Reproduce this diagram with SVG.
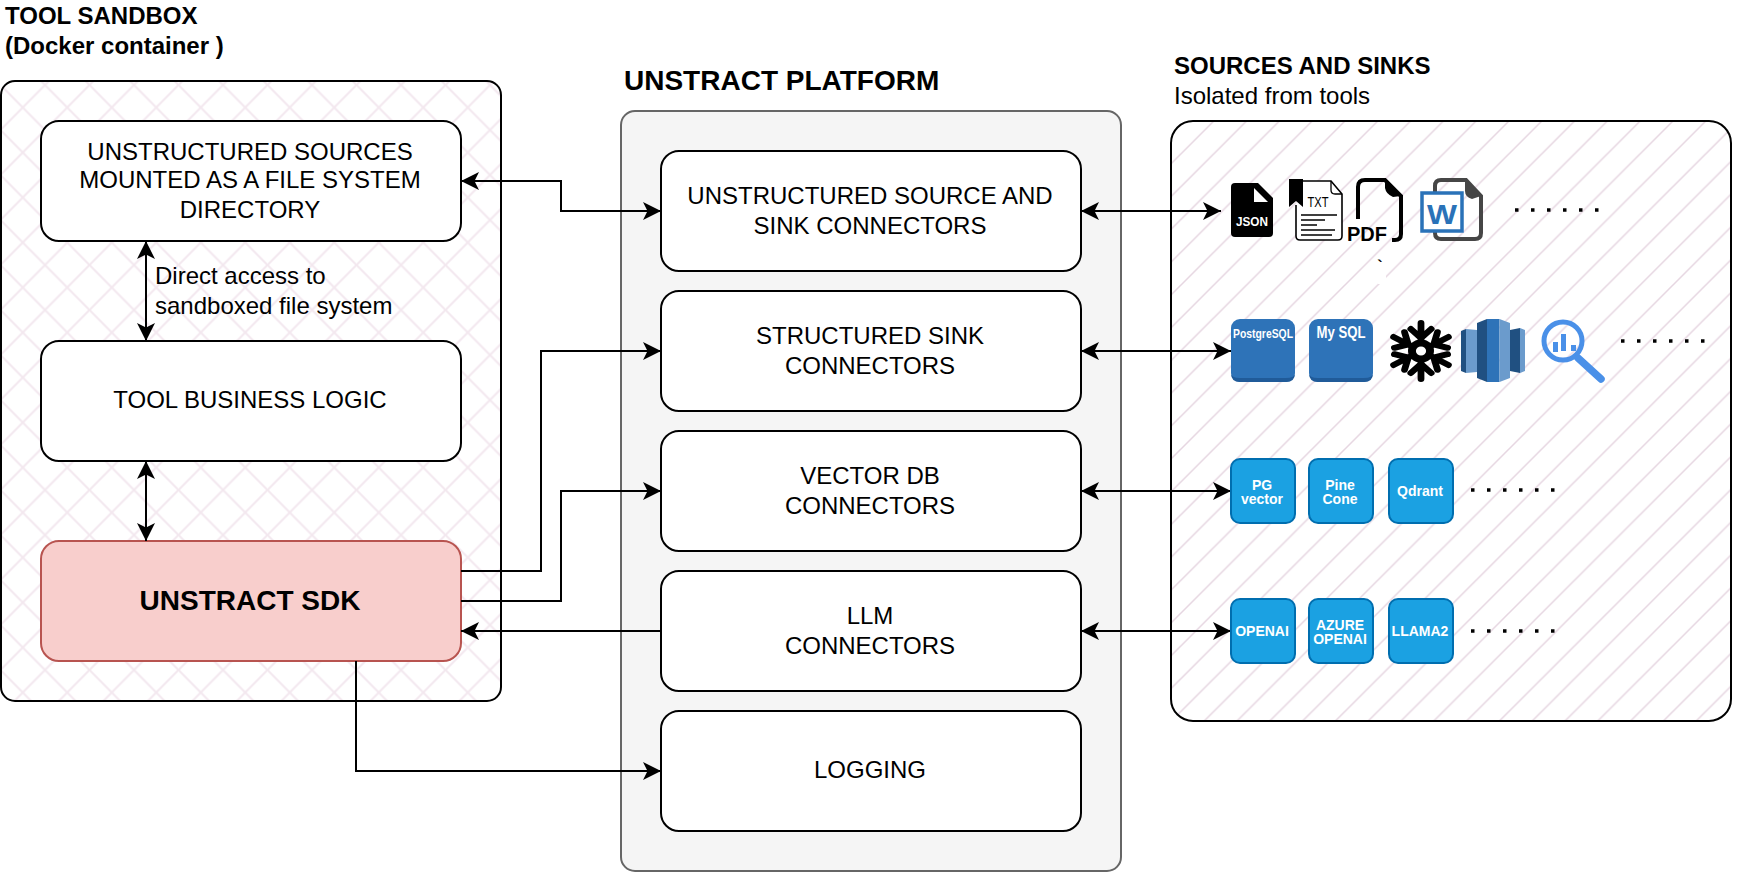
<svg xmlns="http://www.w3.org/2000/svg" width="1742" height="872" viewBox="0 0 1742 872">
<style>
text{font-family:"Liberation Sans",Arial,Helvetica,sans-serif;fill:#000}
.t{font-size:24px;text-anchor:middle}
.h{font-size:24px;font-weight:bold}
.n{fill:#fff;stroke:#000;stroke-width:2}
.c{fill:none;stroke:#000;stroke-width:2}
.b{fill:#1ba1e2;stroke:#006eaf;stroke-width:2}
.w{font-size:14px;font-weight:bold;text-anchor:middle;fill:#fff}
.d{fill:none;stroke:#000;stroke-width:3.5;stroke-dasharray:3.5 12.5}
</style>
<defs>
<marker id="a" markerUnits="userSpaceOnUse" markerWidth="20" markerHeight="20" refX="19" refY="10" orient="auto-start-reverse" viewBox="0 0 20 20"><path d="M19 10L1 1L5.5 10L1 19Z" fill="#000"/></marker>
<pattern id="x" patternUnits="userSpaceOnUse" width="44.5" height="45" x="22.75" y="62.5"><path d="M0 0L44.5 45M44.5 0L0 45" stroke="#f3e8ef" stroke-width="2" fill="none"/></pattern>
<pattern id="s" patternUnits="userSpaceOnUse" width="32.8" height="32.8" x="1181" y="121"><path d="M-5 37.8L37.8 -5M-5 5L5 -5M27.8 37.8L37.8 27.8" stroke="#e6d6e1" stroke-width="1.5" fill="none"/></pattern>
</defs>
<g id="title-sandbox"><text class="h" x="5" y="24">TOOL SANDBOX</text><text class="h" x="5" y="54">(Docker container )</text></g>
<g id="title-platform"><text x="624" y="90" font-size="28" font-weight="bold">UNSTRACT PLATFORM</text></g>
<g id="title-sources"><text class="h" x="1174" y="74">SOURCES AND SINKS</text><text x="1174" y="104" font-size="24">Isolated from tools</text></g>

<g id="sandbox"><rect x="1" y="81" width="500" height="620" rx="14" fill="#fff"/><rect x="1" y="81" width="500" height="620" rx="14" fill="url(#x)" stroke="#000" stroke-width="2"/></g>
<g id="platform"><rect x="621" y="111" width="500" height="760" rx="14" fill="#f5f5f5" stroke="#666" stroke-width="2"/></g>
<g id="sources"><rect x="1171" y="121" width="560" height="600" rx="22" fill="#fff"/><rect x="1171" y="121" width="560" height="600" rx="22" fill="url(#s)" stroke="#000" stroke-width="2"/></g>

<g id="node-mounted"><rect class="n" x="41" y="121" width="420" height="120" rx="18"/><text class="t" x="250" y="160">UNSTRUCTURED SOURCES</text><text class="t" x="250" y="188">MOUNTED AS A FILE SYSTEM</text><text class="t" x="250" y="218">DIRECTORY</text></g>
<g id="node-logic"><rect class="n" x="41" y="341" width="420" height="120" rx="18"/><text class="t" x="250" y="408">TOOL BUSINESS LOGIC</text></g>
<g id="node-sdk"><rect x="41" y="541" width="420" height="120" rx="18" fill="#f8cecc" stroke="#b85450" stroke-width="2"/><text class="t" x="250" y="610" font-weight="bold" style="font-size:28px">UNSTRACT SDK</text></g>
<g id="node-unstructured"><rect class="n" x="661" y="151" width="420" height="120" rx="18"/><text class="t" x="870" y="204">UNSTRUCTURED SOURCE AND</text><text class="t" x="870" y="234">SINK CONNECTORS</text></g>
<g id="node-structured"><rect class="n" x="661" y="291" width="420" height="120" rx="18"/><text class="t" x="870" y="344">STRUCTURED SINK</text><text class="t" x="870" y="374">CONNECTORS</text></g>
<g id="node-vector"><rect class="n" x="661" y="431" width="420" height="120" rx="18"/><text class="t" x="870" y="484">VECTOR DB</text><text class="t" x="870" y="514">CONNECTORS</text></g>
<g id="node-llm"><rect class="n" x="661" y="571" width="420" height="120" rx="18"/><text class="t" x="870" y="624">LLM</text><text class="t" x="870" y="654">CONNECTORS</text></g>
<g id="node-logging"><rect class="n" x="661" y="711" width="420" height="120" rx="18"/><text class="t" x="870" y="778">LOGGING</text></g>

<g id="label-access"><text x="155" y="284" font-size="24">Direct access to</text><text x="155" y="314" font-size="24">sandboxed file system</text></g>

<g id="connectors">
<path class="c" d="M461 181H561V211H661" marker-start="url(#a)" marker-end="url(#a)"/>
<path class="c" d="M146 241V341" marker-start="url(#a)" marker-end="url(#a)"/>
<path class="c" d="M146 461V541" marker-start="url(#a)" marker-end="url(#a)"/>
<path class="c" d="M461 571H541V351H661" marker-end="url(#a)"/>
<path class="c" d="M461 601H561V491H661" marker-end="url(#a)"/>
<path class="c" d="M661 631H461" marker-end="url(#a)"/>
<path class="c" d="M356 661V771H661" marker-end="url(#a)"/>
<path class="c" d="M1081 211H1221" marker-start="url(#a)" marker-end="url(#a)"/>
<path class="c" d="M1081 351H1231" marker-start="url(#a)" marker-end="url(#a)"/>
<path class="c" d="M1081 491H1231" marker-start="url(#a)" marker-end="url(#a)"/>
<path class="c" d="M1081 631H1231" marker-start="url(#a)" marker-end="url(#a)"/>
</g>

<g id="icon-json"><path d="M1235 183H1258L1273 198V233Q1273 237 1269 237H1235Q1231 237 1231 233V187Q1231 183 1235 183Z" fill="#000"/><path d="M1254 188L1268 202H1254Z" fill="#fff"/><text x="1252" y="226" font-size="13.5" font-weight="bold" text-anchor="middle" textLength="32" lengthAdjust="spacingAndGlyphs" style="fill:#fff">JSON</text></g>
<g id="icon-txt"><path d="M1303 181H1331L1342 194V236Q1342 240 1338 240H1300Q1296 240 1296 236V205" fill="#fff" stroke="#000" stroke-width="1.6"/><path d="M1331 181V190Q1331 194 1335 194H1342" fill="none" stroke="#000" stroke-width="1.3"/><path d="M1289 179H1303V207L1296 201L1289 207Z" fill="#000"/><path d="M1301 215H1337M1301 220H1325M1301 225H1317M1301 230H1335M1301 235H1332" stroke="#000" stroke-width="1.5"/><text x="1318" y="207" font-size="14" text-anchor="middle" textLength="21" lengthAdjust="spacingAndGlyphs">TXT</text></g>
<g id="icon-pdf"><path d="M1358 219V187Q1358 180 1365 180H1385L1401 196V234Q1401 240 1395 240H1392" fill="none" stroke="#000" stroke-width="4"/><path d="M1385 180L1401 196L1393 197Q1386 194 1385 188Z" fill="#000"/><text x="1347" y="241" font-size="21" font-weight="bold" textLength="40" lengthAdjust="spacingAndGlyphs">PDF</text></g>
<g id="icon-word"><path d="M1441 180H1466L1481 196V233Q1481 239 1475 239H1441Q1435 239 1435 233V186Q1435 180 1441 180Z" fill="none" stroke="#464646" stroke-width="4"/><path d="M1465 180L1481 196L1472 199Q1465 197 1465 191Z" fill="#464646"/><rect x="1422" y="193" width="40" height="38" fill="#fff" stroke="#2a72b8" stroke-width="3.5"/><text x="1442" y="224" font-size="28" font-weight="bold" text-anchor="middle" textLength="30" lengthAdjust="spacingAndGlyphs" style="fill:#2a72b8">W</text></g>
<g id="backtick"><rect x="1378" y="262" width="8" height="22" fill="#fff"/><text x="1380" y="272" font-size="16" font-weight="bold" text-anchor="middle">`</text></g>

<g id="icon-postgres"><rect x="1231" y="319" width="64" height="63" rx="9" fill="#2e73b8"/><path d="M1231 373Q1231 382 1240 382H1286Q1295 382 1295 373Q1295 378 1286 378H1240Q1231 378 1231 373Z" fill="#205b99"/><text x="1263" y="338" font-size="12.5" font-weight="bold" text-anchor="middle" textLength="60" lengthAdjust="spacingAndGlyphs" style="fill:#fff">PostgreSQL</text></g>
<g id="icon-mysql"><rect x="1309" y="319" width="64" height="63" rx="9" fill="#2e73b8"/><path d="M1309 373Q1309 382 1318 382H1364Q1373 382 1373 373Q1373 378 1364 378H1318Q1309 378 1309 373Z" fill="#205b99"/><text x="1341" y="338" font-size="16" font-weight="bold" text-anchor="middle" textLength="49" lengthAdjust="spacingAndGlyphs" style="fill:#fff">My SQL</text></g>
<g id="icon-snowflake" fill="none" stroke="#000" stroke-width="6" stroke-linecap="round" transform="translate(1421 351) scale(1.13 1) translate(-1421 -351)">
<path d="M1421 323V379M1412 329L1421 338L1430 329M1412 373L1421 364L1430 373"/>
<path d="M1421 323V379M1412 329L1421 338L1430 329M1412 373L1421 364L1430 373" transform="rotate(60 1421 351)"/>
<path d="M1421 323V379M1412 329L1421 338L1430 329M1412 373L1421 364L1430 373" transform="rotate(120 1421 351)"/>
<circle cx="1421" cy="351" r="8" stroke-width="7" fill="#fff"/></g>
<g id="icon-redshift"><path d="M1461 331L1466 329V373L1461 371Z" fill="#205081"/><path d="M1466 329L1477 330V372L1466 373Z" fill="#6b9bcc"/><path d="M1477 323L1487 319V382L1477 378Z" fill="#205081"/><path d="M1487 319H1499.5V382H1487Z" fill="#2e73b8"/><path d="M1499.5 319L1510 323V378L1499.5 382Z" fill="#6b9bcc"/><path d="M1510 330L1520 328V373L1510 371Z" fill="#205081"/><path d="M1520 328L1525 330V371L1520 373Z" fill="#6b9bcc"/></g>
<g id="icon-bigquery"><circle cx="1563" cy="341" r="19" fill="none" stroke="#4a90e8" stroke-width="5"/><path d="M1553 342h5v10h-5zM1561 334h5v17h-5zM1571 345h5v6h-5z" fill="#4a90e8"/><path d="M1578 358L1601 379" stroke="#4a90e8" stroke-width="7.5" stroke-linecap="round"/></g>

<g id="icon-pgvector"><rect class="b" x="1231" y="459" width="64" height="64" rx="9"/><text class="w" x="1262" y="490">PG</text><text class="w" x="1262" y="504">vector</text></g>
<g id="icon-pinecone"><rect class="b" x="1309" y="459" width="64" height="64" rx="9"/><text class="w" x="1340" y="490">Pine</text><text class="w" x="1340" y="504">Cone</text></g>
<g id="icon-qdrant"><rect class="b" x="1389" y="459" width="64" height="64" rx="9"/><text class="w" x="1420" y="496">Qdrant</text></g>
<g id="icon-openai"><rect class="b" x="1231" y="599" width="64" height="64" rx="9"/><text class="w" x="1262" y="636">OPENAI</text></g>
<g id="icon-azure"><rect class="b" x="1309" y="599" width="64" height="64" rx="9"/><text class="w" x="1340" y="630">AZURE</text><text class="w" x="1340" y="644">OPENAI</text></g>
<g id="icon-llama"><rect class="b" x="1389" y="599" width="64" height="64" rx="9"/><text class="w" x="1420" y="636">LLAMA2</text></g>

<g id="dots">
<path class="d" d="M1515 210H1605"/>
<path class="d" d="M1621 341H1711"/>
<path class="d" d="M1471 490H1561"/>
<path class="d" d="M1471 631H1561"/>
</g>
</svg>
